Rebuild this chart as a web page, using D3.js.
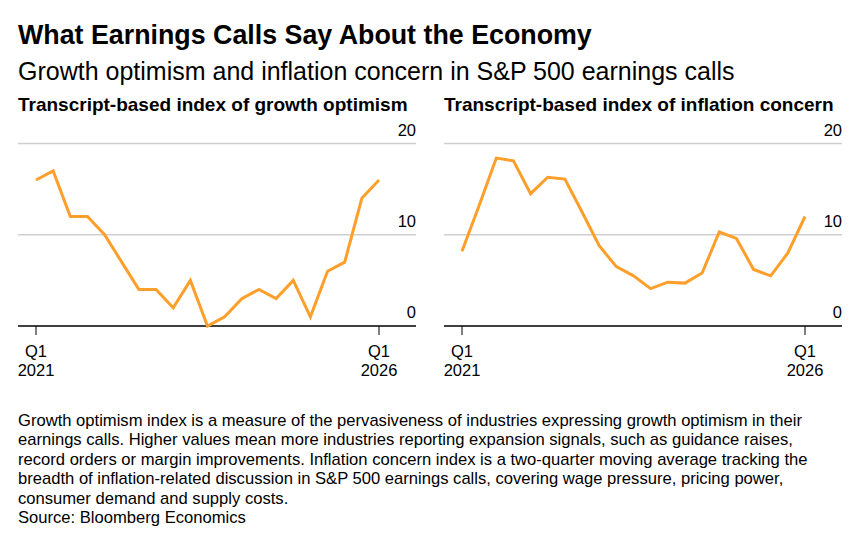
<!DOCTYPE html>
<html>
<head>
<meta charset="utf-8">
<script src="https://cdn.jsdelivr.net/npm/d3@7"></script>
<style>
	body { margin: 0; background: #fff; }
	svg { display: block; font-family: "Liberation Sans", Arial, sans-serif; }
</style>
</head>
<body>
<svg id="chart" width="864" height="548"></svg>
<script>
// quarters Q1 2021 .. Q1 2026
let quarters = d3.range(21);
let growthOptimism = [16, 17, 12, 12, 10, 7, 4, 4, 2, 5, 0, 1, 3, 4, 3, 5, 1, 6, 7, 14, 16];
let inflationConcern = [8.2, 13.2, 18.4, 18.1, 14.5, 16.3, 16.1, 12.5, 8.8, 6.5, 5.5, 4.1, 4.8, 4.7, 5.8, 10.3, 9.6, 6.2, 5.5, 8.0, 12.0];
let yTicks = [0, 10, 20];
let xTickIdx = [0, 20];
let xTickLabels = [['Q1', '2021'], ['Q1', '2026']];

let panelTitles = ['Transcript-based index of growth optimism', 'Transcript-based index of inflation concern'];
let footnote = [
	'Growth optimism index is a measure of the pervasiveness of industries expressing growth optimism in their',
	'earnings calls. Higher values mean more industries reporting expansion signals, such as guidance raises,',
	'record orders or margin improvements. Inflation concern index is a two-quarter moving average tracking the',
	'breadth of inflation-related discussion in S&P 500 earnings calls, covering wage pressure, pricing power,',
	'consumer demand and supply costs.',
	'Source: Bloomberg Economics'
];

let svg = d3.select('#chart');

svg.append('text')
	.attr('x', 18).attr('y', 44)
	.style('font-size', '26.8px').style('font-weight', 'bold')
	.text('What Earnings Calls Say About the Economy');

svg.append('text')
	.attr('x', 18).attr('y', 80)
	.style('font-size', '25px')
	.text('Growth optimism and inflation concern in S&P 500 earnings calls');

let yScale = d3.scaleLinear().domain([0, 20]).range([326, 143.5]);

function drawPanel(x0, x1, title, values) {
	let g = svg.append('g');
	let xScale = d3.scaleLinear().domain([0, 20]).range([x0 + 18, x1 - 37]);

	g.append('text')
		.attr('x', x0).attr('y', 111)
		.style('font-size', '19px').style('font-weight', 'bold')
		.text(title);

	// gridlines + labels
	g.selectAll('line.grid')
		.data(yTicks.filter(d => d > 0))
		.enter()
		.append('line')
		.attr('x1', x0).attr('x2', x1)
		.attr('y1', d => yScale(d)).attr('y2', d => yScale(d))
		.attr('stroke', '#cfcfcf').attr('stroke-width', 1.5);

	g.selectAll('text.ylab')
		.data(yTicks)
		.enter()
		.append('text')
		.attr('x', x1).attr('y', d => yScale(d) - 8)
		.attr('text-anchor', 'end')
		.style('font-size', '16.5px')
		.text(d => d);

	// x ticks
	g.selectAll('line.tick')
		.data(xTickIdx)
		.enter()
		.append('line')
		.attr('x1', d => xScale(d)).attr('x2', d => xScale(d))
		.attr('y1', 326).attr('y2', 335)
		.attr('stroke', '#555').attr('stroke-width', 1.5);

	let xl = g.selectAll('text.xlab')
		.data(xTickIdx)
		.enter()
		.append('text')
		.attr('text-anchor', 'middle')
		.style('font-size', '16.5px');
	xl.append('tspan')
		.attr('x', d => xScale(d)).attr('y', 357)
		.text((d, i) => xTickLabels[i][0]);
	xl.append('tspan')
		.attr('x', d => xScale(d)).attr('y', 376)
		.text((d, i) => xTickLabels[i][1]);

	// baseline
	g.append('line')
		.attr('x1', x0).attr('x2', x1)
		.attr('y1', yScale(0)).attr('y2', yScale(0))
		.attr('stroke', '#000').attr('stroke-width', 1.5);

	let line = d3.line()
		.x((d, i) => xScale(quarters[i]))
		.y(d => yScale(d));

	g.append('path')
		.datum(values)
		.attr('d', line)
		.attr('fill', 'none')
		.attr('stroke', '#ff9f2b')
		.attr('stroke-width', 3)
		.attr('stroke-linejoin', 'miter');
}

drawPanel(18, 416, panelTitles[0], growthOptimism);
drawPanel(444, 842, panelTitles[1], inflationConcern);

svg.append('g')
	.selectAll('text')
	.data(footnote)
	.enter()
	.append('text')
	.attr('x', 18)
	.attr('y', (d, i) => 426 + i * 19.4)
	.style('font-size', '16.6px')
	.text(d => d);
</script>
</body>
</html>
